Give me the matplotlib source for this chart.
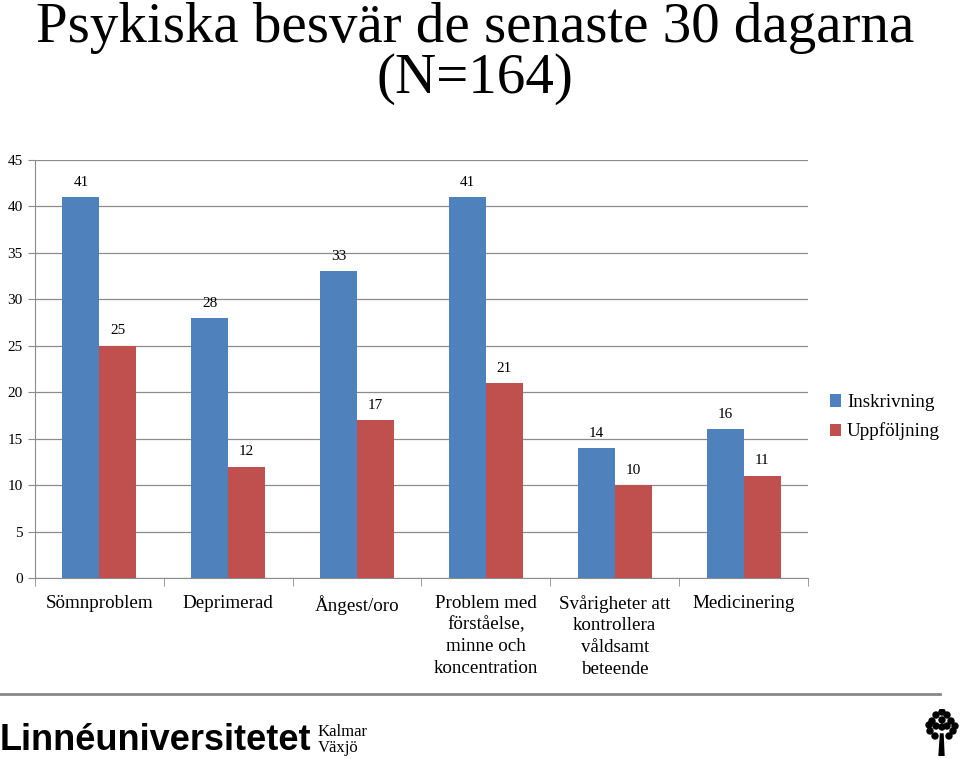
import matplotlib
matplotlib.use("Agg")
import matplotlib.pyplot as plt
import numpy as np
from matplotlib.patches import Circle, Polygon
from matplotlib.lines import Line2D

categories = ["Sömnproblem", "Deprimerad", "Ångest/oro",
              "Problem med\nförståelse,\nminne och\nkoncentration",
              "Svårigheter att\nkontrollera\nvåldsamt\nbeteende",
              "Medicinering"]
inskrivning = [41, 28, 33, 41, 14, 16]
uppfoljning = [25, 12, 17, 21, 10, 11]
series_names = ["Inskrivning", "Uppföljning"]
yticks = [0, 5, 10, 15, 20, 25, 30, 35, 40, 45]

blue = "#4f81bd"
red = "#c0504d"
serif = "Liberation Serif"
plt.rcParams["font.family"] = [serif, "DejaVu Serif"]

fig = plt.figure(figsize=(9.6, 7.59), dpi=100)
ax = fig.add_axes([35/960, 1-578/759, (808-35)/960, (578-160)/759])

x = np.arange(len(categories))
w = 0.287
b1 = ax.bar(x - w/2, inskrivning, w, color=blue, label=series_names[0], zorder=3)
b2 = ax.bar(x + w/2, uppfoljning, w, color=red, label=series_names[1], zorder=3)
for bars in (b1, b2):
    for r in bars:
        ax.annotate(f"{int(r.get_height())}", (r.get_x()+r.get_width()/2, r.get_height()),
                    xytext=(0, 6), textcoords="offset points", ha="center", va="bottom",
                    fontsize=11)

ax.set_xlim(-0.5, len(categories)-0.5)
ax.set_ylim(0, 45)
ax.set_yticks(yticks)
ax.set_yticklabels([str(t) for t in yticks], fontsize=11)
ax.yaxis.grid(True, color="#8c8c8c", linewidth=0.9, zorder=0)
ax.set_axisbelow(True)
ax.set_xticks(x)
ax.set_xticklabels(categories, fontsize=13.7, va="top", linespacing=1.37)
ax.tick_params(axis="x", length=0, pad=12)
ax.set_xticks(np.arange(-0.5, len(categories)), minor=True)
ax.tick_params(axis="x", which="minor", length=6, color="#8c8c8c", direction="out")
ax.tick_params(axis="y", length=5, color="#8c8c8c", direction="out", pad=4)
for s in ["top", "right"]:
    ax.spines[s].set_visible(False)
ax.spines["left"].set_color("#8c8c8c")
ax.spines["bottom"].set_color("#8c8c8c")

leg = ax.legend(loc="upper left", bbox_to_anchor=(1.0185, 0.458), frameon=False,
                fontsize=13.7, handlelength=0.6, handleheight=0.6, handletextpad=0.3,
                labelspacing=0.6, borderaxespad=0)

fig.text(0.495, 0.997, "Psykiska besvär de senaste 30 dagarna\n(N=164)",
         ha="center", va="top", fontsize=41, linespacing=0.96)

# footer line
fig.add_artist(Line2D([0/960, 940/960], [1-694/759]*2, color="#888888", lw=2))
fig.text(0/960, 1-740/759, "Linnéuniversitetet", fontsize=26, fontweight="bold",
         family=["Liberation Sans"], va="center", ha="left")
fig.text(318/960, 1-732/759, "Kalmar", fontsize=12, va="center")
fig.text(318/960, 1-748/759, "Växjö", fontsize=12, va="center")

# tree icon
tree_ax = fig.add_axes([922/960, 1-756/759, 40/960, 47/759])
tree_ax.set_xlim(0, 40); tree_ax.set_ylim(0, 47); tree_ax.axis("off")
tree_ax.add_patch(Polygon([(17, 0), (22, 0), (21, 22), (18.5, 22)], color="black"))
pts = [(20, 44), (14, 41), (25, 41), (10, 35), (20, 36), (29, 35), (14, 30), (25, 30),
       (8, 25), (31, 25), (13, 20), (27, 20), (20, 29), (33, 30), (7, 31)]
for (px, py) in pts:
    tree_ax.add_patch(Circle((px, py), 3, color="black"))

fig.savefig("out.png", dpi=100)
